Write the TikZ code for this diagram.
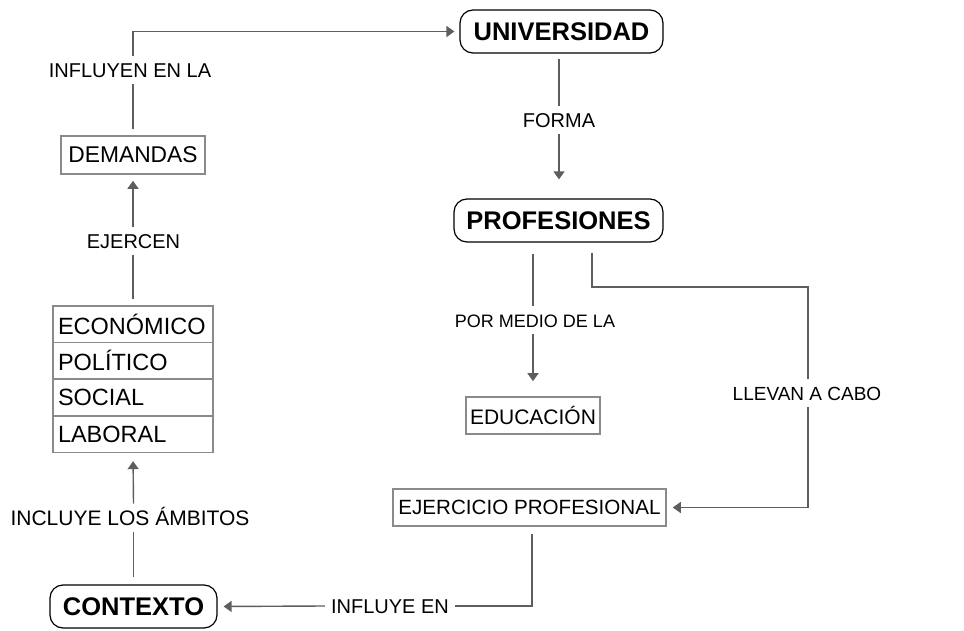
\documentclass[tikz,border=0pt]{standalone}
\usepackage{fontspec}
\setmainfont{Liberation Sans}
\usetikzlibrary{arrows.meta}
\definecolor{lnc}{HTML}{5E5E5E}
\definecolor{bxc}{HTML}{8A8A8A}
\tikzset{
  title/.style={draw=black, line width=1.2pt, rounded corners=13pt, inner sep=0pt,
    minimum height=43pt, font=\fontsize{25.5}{30}\selectfont\bfseries},
  box/.style={draw=bxc, line width=1.6pt, inner sep=0pt, minimum height=37pt,
    font=\fontsize{22}{26}\selectfont},
  row/.style={box, minimum width=160pt, minimum height=36.6pt, text width=150pt, align=left,
    font=\fontsize{23.5}{28}\selectfont},
  lbl/.style={inner xsep=6pt, inner ysep=7pt, text height=14.5pt, text depth=0pt,
    font=\fontsize{20}{24}\selectfont},
  line/.style={draw=lnc, line width=1.4pt},
  arrow/.style={line, -{Triangle[width=11pt,length=8pt]}},
}
\begin{document}
\begin{tikzpicture}[x=1pt,y=-1pt]
\useasboundingbox (0,0) rectangle (964,631);
% nodes
\node[title, minimum width=203pt] (univ) at (561.5,31.5) {UNIVERSIDAD};
\node[title, minimum width=209pt] (prof) at (558.5,220.5) {PROFESIONES};
\node[title, minimum width=167pt] (ctx) at (133.5,606.5) {CONTEXTO};
\node[box, minimum width=144pt, minimum height=38pt, font=\fontsize{22.8}{27}\selectfont] (dem) at (133,155) {DEMANDAS};
\node[box, minimum width=134pt, font=\fontsize{21}{25}\selectfont] (edu) at (533,415.5) {EDUCACIÓN};
\node[box, minimum width=273pt, font=\fontsize{20.6}{25}\selectfont] (ejp) at (529.5,507.5) {EJERCICIO PROFESIONAL};
\node[row] (eco) at (133,324.3) {ECONÓMICO};
\node[row] (pol) at (133,360.9) {POLÍTICO};
\node[row] (soc) at (133,397.5) {SOCIAL};
\node[row] (lab) at (133,434.1) {LABORAL};
% labels
\node[lbl] (lInfl) at (130,70) {INFLUYEN EN LA};
\node[lbl] (lForma) at (559,120) {FORMA};
\node[lbl] (lEjer) at (133.5,241) {EJERCEN};
\node[lbl, font=\fontsize{21}{25}\selectfont] (lIncl) at (130,518) {INCLUYE LOS ÁMBITOS};
\node[lbl, font=\fontsize{18}{22}\selectfont] (lPor) at (535,320) {POR MEDIO DE LA};
\node[lbl, font=\fontsize{19}{23}\selectfont] (lLlev) at (807,393) {LLEVAN A CABO};
\node[lbl] (lInfy) at (390,606) {INFLUYE EN};
\coordinate (k0) at (592,242);
\coordinate (k1) at (808,287);
% connectors
\draw[line, shorten <=6pt] (dem.north) -- (dem.north |- lInfl.south);
\draw[arrow, shorten >=5pt] (dem.north |- lInfl.north) |- (univ.west);
\draw[line, shorten <=5pt] (univ.south -| lForma) -- (lForma.north);
\draw[arrow, shorten >=19pt] (lForma.south) -- (lForma |- prof.north);
\draw[line, shorten <=11pt] (prof.south -| edu.north) -- (lPor.north -| edu.north);
\draw[arrow, shorten >=15pt] (lPor.south -| edu.north) -- (edu.north);
\draw[line, shorten <=11pt] (k0) |- (k1) -- (k1 |- lLlev.north);
\draw[arrow, shorten >=6pt] (k1 |- lLlev.south) |- (ejp.east);
\draw[line, shorten <=7pt] ([xshift=2.5pt]ejp.south) |- (lInfy.east);
\draw[arrow, shorten >=6pt] (lInfy.west) -- (ctx.east);
\draw[line, shorten <=7pt] (ctx.north) -- (ctx.north |- lIncl.south);
\draw[arrow, shorten >=8pt] (ctx.north |- lIncl.north) -- (lab.south);
\draw[line, shorten <=6pt] (eco.north) -- (eco.north |- lEjer.south);
\draw[arrow, shorten >=6pt] (eco.north |- lEjer.north) -- (dem.south);
\end{tikzpicture}
\end{document}
